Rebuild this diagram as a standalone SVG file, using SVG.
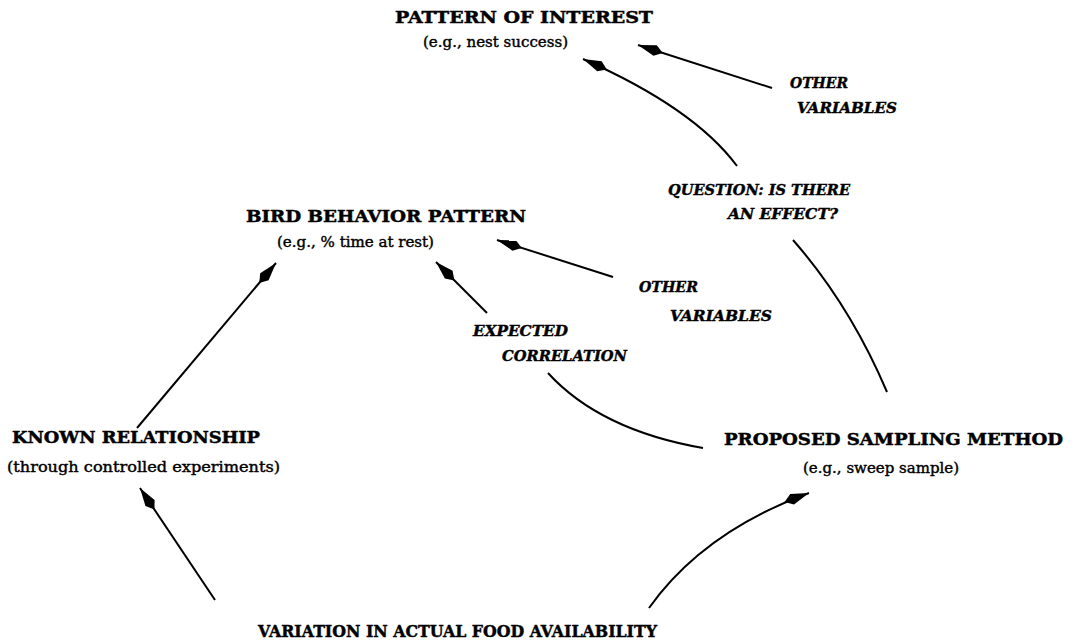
<svg xmlns="http://www.w3.org/2000/svg" width="1075" height="642" viewBox="0 0 1075 642">
<style>
.t{font-family:"DejaVu Serif","Liberation Serif",serif;font-weight:bold;font-size:17.5px;fill:#000;stroke:#000;stroke-width:0.5}
.s{font-family:"DejaVu Serif","Liberation Serif",serif;font-size:14px;fill:#000;stroke:#000;stroke-width:0.4}
.l{font-family:"DejaVu Serif","Liberation Serif",serif;font-weight:bold;font-style:italic;font-size:14px;fill:#000;stroke:#000;stroke-width:0.4}
.c{fill:none;stroke:#000;stroke-width:2}
</style>
<defs>
<marker id="ah" viewBox="-28 -7 30 14" refX="0" refY="0" markerWidth="30" markerHeight="14" markerUnits="userSpaceOnUse" orient="auto">
<path d="M0,0 L-18,-5.5 L-26,0 L-18,5.5 Z" fill="#000"/>
</marker>
</defs>
<rect width="1075" height="642" fill="#fff"/>
<g id="pattern">
<text class="t" x="395" y="23" textLength="258" lengthAdjust="spacingAndGlyphs">PATTERN OF INTEREST</text>
<text class="s" x="423" y="47" textLength="145" lengthAdjust="spacingAndGlyphs">(e.g., nest success)</text>
</g>
<g id="bird">
<text class="t" x="246" y="222" textLength="280" lengthAdjust="spacingAndGlyphs">BIRD BEHAVIOR PATTERN</text>
<text class="s" x="277" y="247" textLength="157" lengthAdjust="spacingAndGlyphs">(e.g., % time at rest)</text>
</g>
<g id="known">
<text class="t" x="12" y="443" textLength="248" lengthAdjust="spacingAndGlyphs">KNOWN RELATIONSHIP</text>
<text class="s" x="7" y="472" textLength="273" lengthAdjust="spacingAndGlyphs">(through controlled experiments)</text>
</g>
<g id="proposed">
<text class="t" x="724" y="445" textLength="339" lengthAdjust="spacingAndGlyphs">PROPOSED SAMPLING METHOD</text>
<text class="s" x="803" y="473" textLength="156" lengthAdjust="spacingAndGlyphs">(e.g., sweep sample)</text>
</g>
<g id="variation">
<text class="t" x="258" y="637" textLength="399" lengthAdjust="spacingAndGlyphs">VARIATION IN ACTUAL FOOD AVAILABILITY</text>
</g>
<g id="other1">
<text class="l" x="790" y="88" textLength="58" lengthAdjust="spacingAndGlyphs">OTHER</text>
<text class="l" x="797" y="113" textLength="100" lengthAdjust="spacingAndGlyphs">VARIABLES</text>
</g>
<g id="question">
<text class="l" x="668" y="195" textLength="182" lengthAdjust="spacingAndGlyphs">QUESTION: IS THERE</text>
<text class="l" x="728" y="219" textLength="110" lengthAdjust="spacingAndGlyphs">AN EFFECT?</text>
</g>
<g id="other2">
<text class="l" x="639" y="292" textLength="59" lengthAdjust="spacingAndGlyphs">OTHER</text>
<text class="l" x="670" y="321" textLength="102" lengthAdjust="spacingAndGlyphs">VARIABLES</text>
</g>
<g id="expected">
<text class="l" x="473" y="336" textLength="95" lengthAdjust="spacingAndGlyphs">EXPECTED</text>
<text class="l" x="502" y="361" textLength="125" lengthAdjust="spacingAndGlyphs">CORRELATION</text>
</g>
<g id="connectors">
<path class="c" d="M737,166 Q694,108 583,59" marker-end="url(#ah)"/>
<path class="c" d="M772,88 L638,45" marker-end="url(#ah)"/>
<path class="c" d="M793,240 Q850,305 887,392"/>
<path class="c" d="M613,277 L497,240" marker-end="url(#ah)"/>
<path class="c" d="M487,313 L436,262" marker-end="url(#ah)"/>
<path class="c" d="M548,373 Q600,430 703,448"/>
<path class="c" d="M137,428 L276,263" marker-end="url(#ah)"/>
<path class="c" d="M215,600 L140,488" marker-end="url(#ah)"/>
<path class="c" d="M649,608 Q703,532 809,493" marker-end="url(#ah)"/>
</g>
</svg>
